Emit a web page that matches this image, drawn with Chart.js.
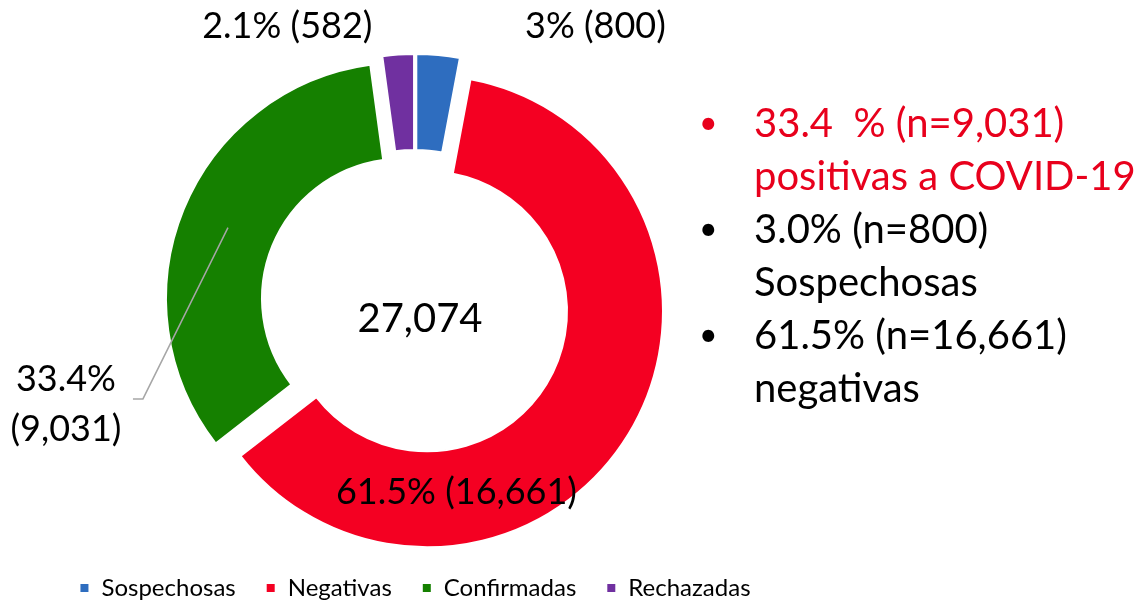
<!DOCTYPE html>
<html>
<head>
<meta charset="utf-8">
<script src="https://cdn.jsdelivr.net/npm/chart.js@4.4.0/dist/chart.umd.min.js"></script>
<style>
    html, body { margin: 0; padding: 0; background: #fff; }
    #wrap { width: 1141px; height: 600px; position: relative; }
</style>
</head>
<body>
<div id="wrap"><canvas id="chart"></canvas></div>
<script>
const categories = ['Sospechosas', 'Negativas', 'Confirmadas', 'Rechazadas'];
const counts = [800, 16661, 9031, 582];
const percentLabels = ['3%', '61.5%', '33.4%', '2.1%'];
const totalLabel = '27,074';

const noteLines = [
    ['33.4  % (n=9,031)', 'positivas a COVID-19'],
    ['3.0% (n=800)', 'Sospechosas'],
    ['61.5% (n=16,661)', 'negativas']
];

const sliceColors = ['#2E6DBF', '#F40022', '#158000', '#7030A0'];
const noteColors = ['#E8001C', '#000000', '#000000'];

const FONT = 'Lato, "Noto Sans", sans-serif';
const EXPLODE = 14;

// where each value label sits, relative to its slice centre
const labelShift = [[163, -90], [-119, 90], [-98, 166], [-115, -90]];

const fmt = (n) => n.toLocaleString('en-US');

// pull every slice out along its middle angle
const explodePlugin = {
    id: 'explode',
    beforeDatasetsDraw(chart) {
        chart.getDatasetMeta(0).data.forEach(arc => {
            if (arc._exploded) return;
            const draw = arc.draw;
            arc.draw = function (ctx) {
                const mid = (this.startAngle + this.endAngle) / 2;
                ctx.save();
                ctx.translate(Math.cos(mid) * EXPLODE, Math.sin(mid) * EXPLODE);
                draw.call(this, ctx);
                ctx.restore();
            };
            arc._exploded = true;
        });
    }
};

const labelsPlugin = {
    id: 'sliceLabels',
    afterDatasetsDraw(chart) {
        const ctx = chart.ctx;
        const meta = chart.getDatasetMeta(0);
        ctx.save();
        ctx.fillStyle = '#000';
        ctx.textAlign = 'center';
        ctx.textBaseline = 'middle';

        // total in the hole
        const c = meta.data[0];
        ctx.font = '40px ' + FONT;
        ctx.fillText(totalLabel, c.x + 5, c.y + 15);

        ctx.font = '36px ' + FONT;
        meta.data.forEach((arc, i) => {
            const p = arc.tooltipPosition();
            const mid = (arc.startAngle + arc.endAngle) / 2;
            const px = p.x + Math.cos(mid) * EXPLODE;
            const py = p.y + Math.sin(mid) * EXPLODE;
            const tx = p.x + labelShift[i][0];
            const ty = p.y + labelShift[i][1];
            const text = percentLabels[i] + ' (' + fmt(counts[i]) + ')';
            if (categories[i] === 'Confirmadas') {
                ctx.strokeStyle = '#A6A6A6';
                ctx.lineWidth = 1.5;
                ctx.beginPath();
                ctx.moveTo(px, py);
                ctx.lineTo(tx, ty);
                ctx.lineTo(tx - 10, ty);
                ctx.stroke();
                ctx.fillText(percentLabels[i], tx - 77, ty - 20);
                ctx.fillText('(' + fmt(counts[i]) + ')', tx - 77, ty + 30);
            } else {
                ctx.fillText(text, tx, ty);
            }
        });
        ctx.restore();
    }
};

const notesPlugin = {
    id: 'notes',
    afterDraw(chart) {
        const ctx = chart.ctx;
        ctx.save();
        ctx.textBaseline = 'alphabetic';
        ctx.textAlign = 'left';
        let y = 137;
        noteLines.forEach((lines, i) => {
            ctx.fillStyle = noteColors[i];
            ctx.font = '32px ' + FONT;
            ctx.fillText('\u2022', 699, y - 3);
            ctx.font = '40px ' + FONT;
            lines.forEach(line => {
                ctx.fillText(line, 754, y);
                y += 53;
            });
        });
        ctx.restore();
    }
};

new Chart(document.getElementById('chart'), {
    type: 'doughnut',
    data: {
        labels: categories,
        datasets: [{
            data: counts,
            backgroundColor: sliceColors,
            borderColor: '#ffffff',
            borderWidth: 2,
            hoverOffset: 0
        }]
    },
    options: {
        responsive: true,
        maintainAspectRatio: false,
        animation: false,
        radius: 236,
        cutout: 143,
        layout: {
            padding: { left: 0, right: 311, top: 62, bottom: -10 }
        },
        plugins: {
            tooltip: { enabled: false },
            legend: {
                position: 'bottom',
                labels: {
                    boxWidth: 10,
                    boxHeight: 10,
                    padding: 30,
                    color: '#000',
                    font: { family: FONT, size: 24 }
                }
            }
        }
    },
    plugins: [explodePlugin, labelsPlugin, notesPlugin]
});
</script>
</body>
</html>
